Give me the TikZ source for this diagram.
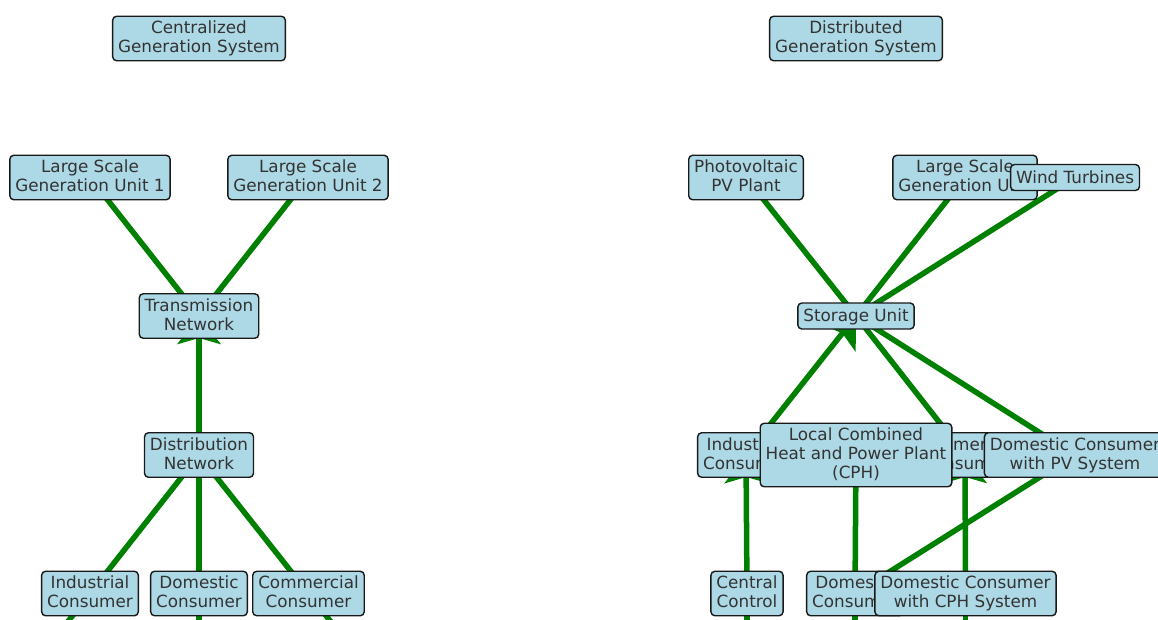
\documentclass[tikz,border=0pt]{standalone}
\usepackage{fontspec}
\setmainfont{DejaVu Sans}
\usetikzlibrary{arrows.meta,calc}
\pgfdeclarelayer{bg}
\pgfsetlayers{bg,main}
\definecolor{boxfill}{HTML}{ADD8E6}
\definecolor{edgegreen}{HTML}{008000}
\definecolor{txtgray}{HTML}{333333}
\newcommand{\bstrut}{\rule[-3.75pt]{0pt}{19pt}}
\begin{document}
\begin{tikzpicture}[x=1pt,y=-1pt,
  box/.style={draw=black!90, line width=1.4pt, rounded corners=4pt, fill=boxfill,
    text=txtgray, align=center, font=\fontsize{16.8}{19}\selectfont,
    inner xsep=5.5pt, inner ysep=4.5pt,
    execute at begin node=\bstrut, execute at end node=\bstrut},
  onebox/.style={box, inner ysep=3.5pt},
  edge/.style={draw=edgegreen, line width=5.5pt},
  arr/.style={edge, -{Stealth[length=28pt,width=43pt,inset=6pt]}}]
\useasboundingbox (0,0) rectangle (1158,619);
\clip (0,0) rectangle (1158,619);
% ---- left: centralized ----
\node[box] (cgs) at (199,38.5) {Centralized\\\bstrut Generation System};
\node[box] (g1) at (90,177.5) {Large Scale\\\bstrut Generation Unit 1};
\node[box] (g2) at (308,177.5) {Large Scale\\\bstrut Generation Unit 2};
\node[box] (tr) at (199,316) {Transmission\\\bstrut Network};
\node[box] (di) at (199,455) {Distribution\\\bstrut Network};
\node[box] (ic) at (90,593.5) {Industrial\\\bstrut Consumer};
\node[box] (dc) at (199,593.5) {Domestic\\\bstrut Consumer};
\node[box] (cc) at (308.5,593.5) {Commercial\\\bstrut Consumer};
% ---- right: distributed ----
\node[box] (dgs) at (856,38.5) {Distributed\\\bstrut Generation System};
\node[box] (pv) at (746,177.5) {Photovoltaic\\\bstrut PV Plant};
\node[box] (lsg) at (965,177.5) {Large Scale\\\bstrut Generation Unit};
\node[onebox] (wt) at (1075,177.5) {Wind Turbines};
\node[onebox] (su) at (856,316) {Storage Unit};
\node[box] (ir) at (746,455) {Industrial\\\bstrut Consumer};
\node[box] (cr) at (965,455) {Commercial\\\bstrut Consumer};
\node[box] (cph) at (856,455) {Local Combined\\\bstrut Heat and Power Plant\\\bstrut (CPH)};
\node[box] (dpv) at (1075,455) {Domestic Consumer\\\bstrut with PV System};
\node[box] (ctl) at (747,593.5) {Central\\\bstrut Control};
\node[box] (dr) at (855,593.5) {Domestic\\\bstrut Consumer};
\node[box] (dcph) at (965.5,593.5) {Domestic Consumer\\\bstrut with CPH System};
% ---- edges ----
\begin{pgfonlayer}{bg}
\clip (0,0) rectangle (1158,619);
\coordinate (ctlb) at (747,640);
\coordinate (drb) at (855,640);
\coordinate (dcphb) at (965.5,640);
\draw[edge] (g1.center) -- (tr.center);
\draw[edge] (g2.center) -- (tr.center);
\draw[arr] (di.center) -- (tr.center);
\draw[edge] (di.center) -- ($(di.center)!1.3!(ic.center)$);
\draw[edge] (di.center) -- ($(di.center)!1.3!(dc.center)$);
\draw[edge] (di.center) -- ($(di.center)!1.3!(cc.center)$);
\draw[edge] (pv.center) -- (su.center);
\draw[edge] (lsg.center) -- (su.center);
\draw[edge] (wt.center) -- (su.center);
\draw[arr] (ir.center) -- (su.center);
\draw[edge] (cr.center) -- (su.center);
\draw[edge] (dpv.center) -- (su.center);
\draw[arr] (ctl.center) -- (ir.center);
\draw[edge] (ctl.center) -- (ctlb);
\draw[edge] (cph.center) -- (dr.center);
\draw[edge] (dr.center) -- (drb);
\draw[arr] (dcph.center) -- (cr.center);
\draw[edge] (dcph.center) -- (dcphb);
\draw[edge] (dpv.center) -- (dr.center);
\end{pgfonlayer}
\end{tikzpicture}
\end{document}
